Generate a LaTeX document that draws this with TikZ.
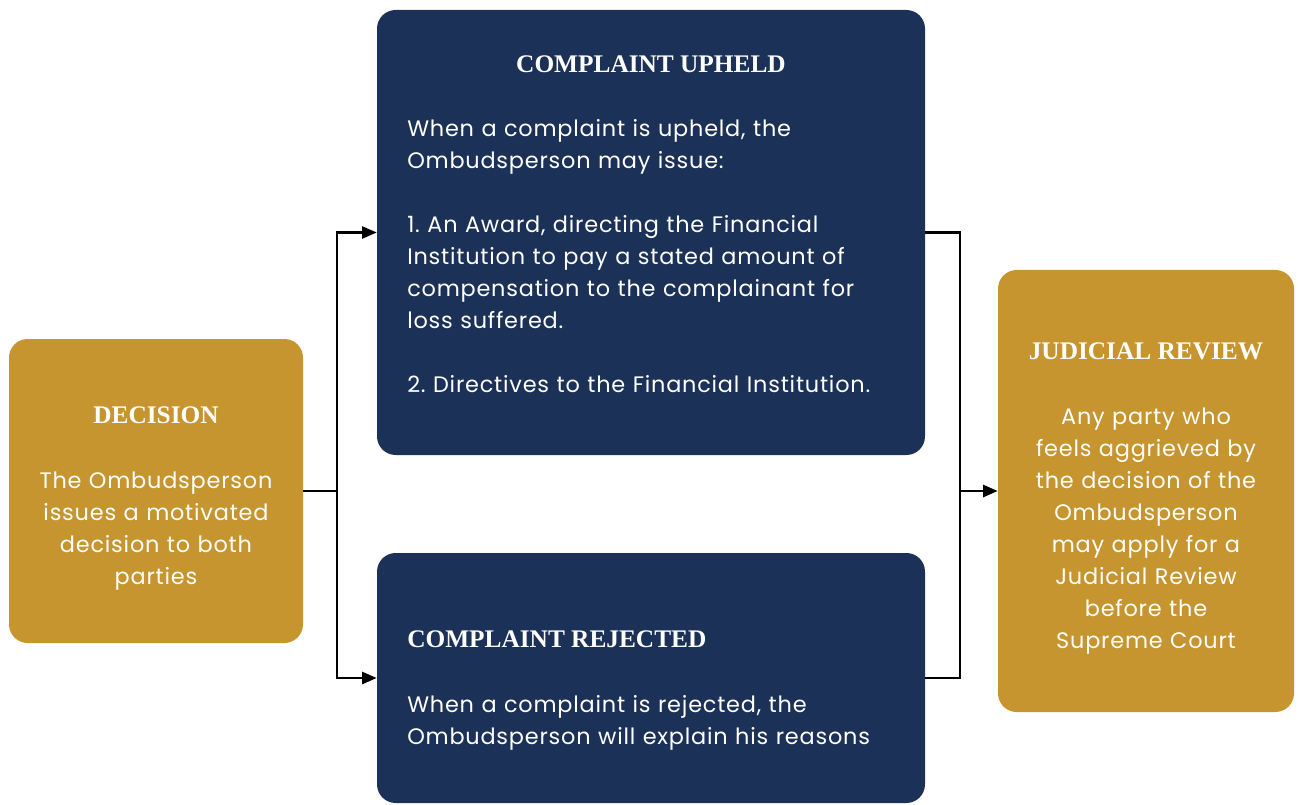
\documentclass[tikz,border=0pt]{standalone}
\usepackage{fontspec}
\usetikzlibrary{arrows.meta}

\newfontfamily\headfont{Liberation Serif}
\newfontfamily\bodyfont{Poppins}[LetterSpace=3.5]
\frenchspacing

\definecolor{navy}{HTML}{1B3158}
\definecolor{gold}{HTML}{C7952F}

\begin{document}
\begin{tikzpicture}[
        x=0.75pt, y=-0.75pt,
        box/.style={draw=none, rounded corners=14pt, inner sep=0pt},
        goldbox/.style={box, fill=gold},
        navybox/.style={box, fill=navy},
        head/.style={text=white, anchor=base, inner sep=0pt, yshift=-5.5pt, font=\headfont\bfseries\fontsize{19}{24}\selectfont},
        body/.style={text=white, anchor=base, inner sep=0pt, yshift=-5.5pt, font=\bodyfont\fontsize{16.8}{24}\selectfont},
        link/.style={draw, line width=1.9pt},
        arrow/.style={link, -{Triangle[length=11pt, width=9pt]}},
    ]
    \useasboundingbox (0,0) rectangle (1298,805);

    % boxes
    \node[goldbox, minimum width=220.5pt, minimum height=228pt] (decision) at (156,491) {};
    \node[navybox, minimum width=411pt, minimum height=333.75pt] (upheld) at (651,232.5) {};
    \node[navybox, minimum width=411pt, minimum height=187.5pt] (rejected) at (651,678) {};
    \node[goldbox, minimum width=222pt, minimum height=331.5pt] (review) at (1146,491) {};

    % texts
    \node[head] (decisionT) at (156,416) {DECISION};
    \node[body, text width=200pt, align=center] (decisionB) at (156,481)
        {The Ombudsperson\\issues a motivated\\decision to both\\parties};

    \node[head] (upheldT) at (651,65) {COMPLAINT UPHELD};
    \node[body, anchor=base west, text width=380pt, align=left] (upheldB) at (407,129)
        {When a complaint is upheld, the\\Ombudsperson may issue:\\[24pt]
         1. An Award, directing the Financial\\Institution to pay a stated amount of\\
         compensation to the complainant for\\loss suffered.\\[24pt]
         2. Directives to the Financial Institution.};

    \node[head, anchor=base west] (rejectedT) at (407,640) {COMPLAINT REJECTED};
    \node[body, anchor=base west, text width=380pt, align=left] (rejectedB) at (407,705)
        {When a complaint is rejected, the\\Ombudsperson will explain his reasons};

    \node[head] (reviewT) at (1146,352) {JUDICIAL REVIEW};
    \node[body, text width=200pt, align=center] (reviewB) at (1146,417)
        {Any party who\\feels aggrieved by\\the decision of the\\Ombudsperson\\may apply for a\\
         Judicial Review\\before the\\Supreme Court};

    % connectors
    \coordinate (fork) at (337,491);
    \coordinate (join) at (960,491);
    \draw[link] (decision.east) -- (fork);
    \draw[arrow] (fork) |- (upheld.west);
    \draw[arrow] (fork) |- (rejected.west);
    \draw[link] (upheld.east) -| (join);
    \draw[link] (rejected.east) -| (join);
    \draw[arrow] (join) -- (review.west);
\end{tikzpicture}
\end{document}
